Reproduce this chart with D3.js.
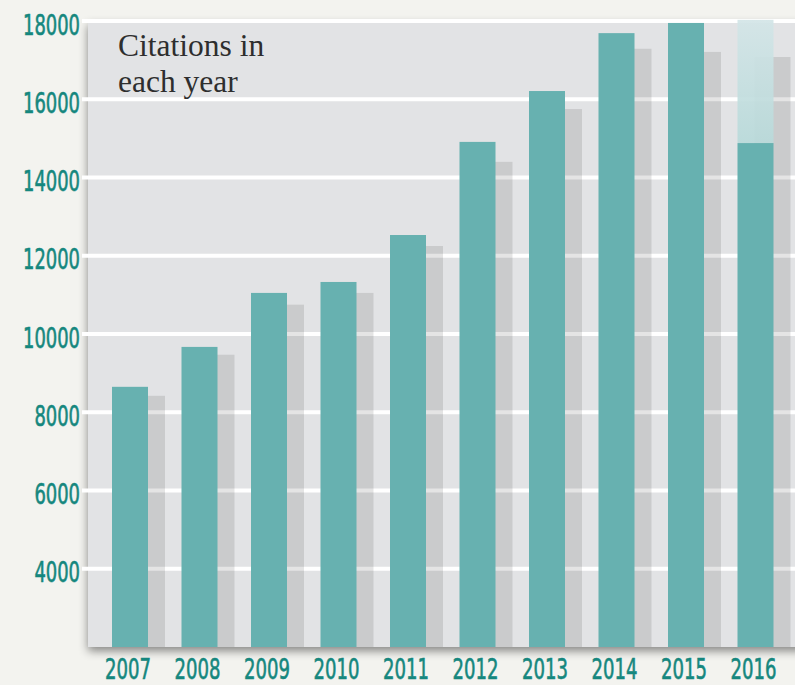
<!DOCTYPE html>
<html><head><meta charset="utf-8">
<script src="https://cdn.jsdelivr.net/npm/d3@7"></script>
<style>
html,body{margin:0;padding:0;background:#f3f3ef;}
svg{display:block;}
</style></head>
<body><svg id="c" width="795" height="685"></svg>
<script>
const years = ['2007','2008','2009','2010','2011','2012','2013','2014','2015','2016'];
const citations = [8650, 9670, 11050, 11330, 12530, 14910, 16210, 17690, 17950, 14880];
const previous = [8420, 9470, 10750, 11050, 12250, 14400, 15750, 17290, 17210, 17080];
const projectedYear = '2016';
const projectedValue = 18030;
const yTicks = [4000, 6000, 8000, 10000, 12000, 14000, 16000, 18000];
const titleLines = ['Citations in', 'each year'];

const svg = d3.select('#c');
const W = 795, H = 685;
const plotLeft = 88, plotTop = 21, plotBottom = 647;

const y = d3.scaleLinear().domain([2000, 18000]).range([plotBottom, plotTop]);
const x = d3.scaleBand().domain(years).range([112, 773.5]).paddingInner(1 - 36/69.5).paddingOuter(0);
const shadowOffset = 17;
const labelFont = '"DejaVu Sans Condensed","DejaVu Sans",sans-serif';

const defs = svg.append('defs');
const f = defs.append('filter').attr('id','ds').attr('x','-10%').attr('y','-10%').attr('width','130%').attr('height','130%');
f.append('feDropShadow').attr('dx',0).attr('dy',4).attr('stdDeviation',5).attr('flood-color','#000').attr('flood-opacity',0.45);
const g = defs.append('linearGradient').attr('id','proj').attr('x1',0).attr('y1',0).attr('x2',0).attr('y2',1);
g.append('stop').attr('offset','0%').attr('stop-color','#d3e5e7');
g.append('stop').attr('offset','100%').attr('stop-color','#b9dada');

// plot background
svg.append('rect').attr('x', plotLeft).attr('y', plotTop).attr('width', W - plotLeft + 20).attr('height', plotBottom - plotTop)
  .attr('fill', '#e2e3e5').attr('filter','url(#ds)');

// gridlines
svg.append('g').selectAll('line').data(yTicks).join('line')
  .attr('x1', 82).attr('x2', W).attr('y1', d => y(d)).attr('y2', d => y(d))
  .attr('stroke', '#ffffff').attr('stroke-width', 4);

// y labels
svg.append('g').selectAll('text').data(yTicks).join('text')
  .attr('x', 80).attr('y', d => y(d) + 13.5)
  .attr('text-anchor', 'end')
  .attr('font-family', labelFont)
  .attr('font-size', 28).attr('fill', '#15877e')
  .attr('stroke', '#15877e').attr('stroke-width', 0.6)
  .attr('textLength', d => String(d).length * 11.4).attr('lengthAdjust', 'spacingAndGlyphs')
  .text(d => d);

// previous (gray shadow) bars
svg.append('g').selectAll('rect').data(years).join('rect')
  .attr('x', d => x(d) + shadowOffset).attr('width', x.bandwidth())
  .attr('y', (d,i) => y(previous[i])).attr('height', (d,i) => y(2000) - y(previous[i]))
  .attr('fill', '#000').attr('fill-opacity', 0.105);

// projected bar
svg.append('rect').attr('x', x(projectedYear)).attr('width', x.bandwidth())
  .attr('y', y(projectedValue)).attr('height', y(citations[years.indexOf(projectedYear)]) - y(projectedValue))
  .attr('fill', 'url(#proj)').attr('fill-opacity', 0.93);

// main bars
svg.append('g').selectAll('rect').data(years).join('rect')
  .attr('x', d => x(d)).attr('width', x.bandwidth())
  .attr('y', (d,i) => y(citations[i])).attr('height', (d,i) => y(2000) - y(citations[i]))
  .attr('fill', '#67b1b0');

// x labels
svg.append('g').selectAll('text').data(years).join('text')
  .attr('x', d => x(d) + x.bandwidth()/2 - 2).attr('y', 678.5)
  .attr('text-anchor', 'middle')
  .attr('font-family', labelFont)
  .attr('font-size', 28).attr('fill', '#15877e')
  .attr('stroke', '#15877e').attr('stroke-width', 0.6)
  .attr('textLength', 46).attr('lengthAdjust', 'spacingAndGlyphs')
  .text(d => d);

// title
svg.append('g').selectAll('text').data(titleLines).join('text')
  .attr('x', 118).attr('y', (d,i) => 56 + i*36)
  .attr('font-family', '"Liberation Serif","Times New Roman",serif')
  .attr('font-size', 31.5).attr('fill', '#2e2e2e')
  .text(d => d);
</script></body></html>
